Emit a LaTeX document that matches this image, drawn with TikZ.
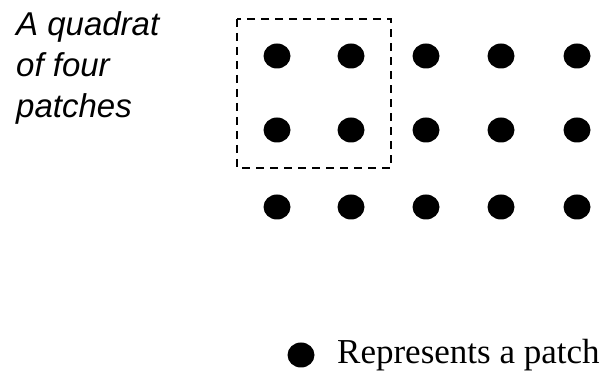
\documentclass[tikz,border=0pt]{standalone}
\usepackage{fontspec}
\setmainfont{Liberation Serif}
\newfontfamily\arialfont{Liberation Sans}
\usetikzlibrary{shapes.geometric}
\begin{document}
\begin{tikzpicture}[x=1pt,y=-1pt,
  patch/.style={ellipse,fill=black,inner sep=0pt,minimum width=27pt,minimum height=25pt},
  quadratbox/.style={draw=black,line width=2.8pt,dash pattern=on 8pt off 6pt},
  captiontext/.style={font=\arialfont\itshape\fontsize{33}{41}\selectfont,align=left,inner sep=0pt,anchor=north west},
  legendtext/.style={font=\fontsize{35}{36}\selectfont,inner sep=0pt,anchor=base west}]
\useasboundingbox (0,0) rectangle (603,371);
\node[captiontext] (caption) at (16,11) {A quadrat\\of four\\patches};
\foreach \c/\x in {1/277,2/351,3/426,4/501,5/577}{
  \foreach \r/\y in {1/56,2/130,3/207}{
    \node[patch] (p\r\c) at (\x,\y) {};
  }
}
\coordinate (qa) at (237,19);
\coordinate (qb) at (391,168);
\draw[quadratbox] (qa) rectangle (qb);
\node[patch] (legdot) at (301,355) {};
\node[legendtext] (legtext) at (337,364) {Represents a patch};
\end{tikzpicture}
\end{document}
